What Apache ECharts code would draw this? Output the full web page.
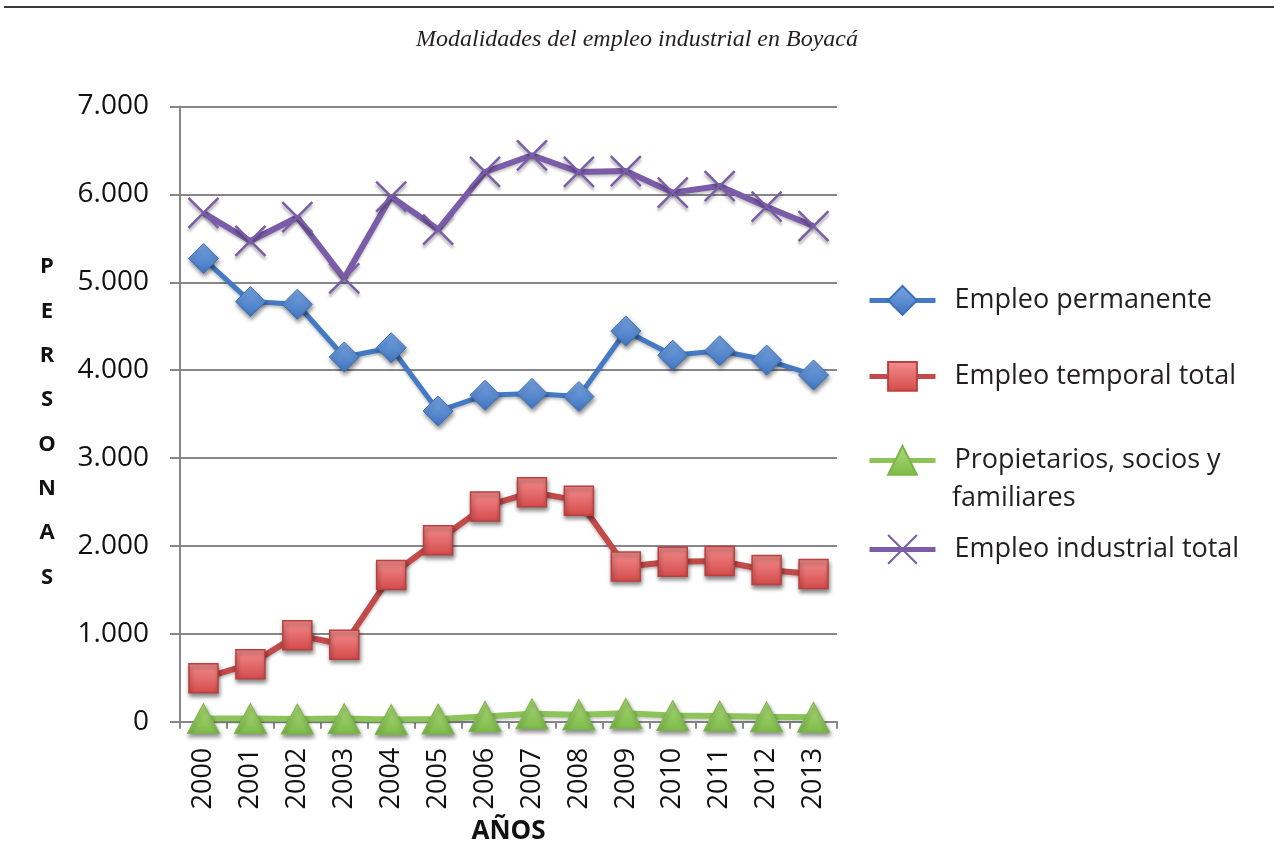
<!DOCTYPE html>
<html>
<head>
<meta charset="utf-8">
<title>Modalidades del empleo industrial en Boyacá</title>
<script src="https://cdn.jsdelivr.net/npm/echarts@6/dist/echarts.min.js"></script>
<style>
  html, body { margin: 0; padding: 0; background: #fff; }
  #main { width: 1274px; height: 848px; }
</style>
</head>
<body>
<div id="main"></div>
<script>
// datos
var anios = ['2000', '2001', '2002', '2003', '2004', '2005', '2006', '2007', '2008', '2009', '2010', '2011', '2012', '2013'];
var empleoPermanente = [5270, 4780, 4750, 4150, 4255, 3535, 3715, 3735, 3700, 4445, 4170, 4220, 4115, 3945];
var empleoTemporal = [495, 655, 985, 875, 1670, 2065, 2450, 2610, 2515, 1765, 1820, 1828, 1726, 1680];
var propietarios = [35, 35, 30, 35, 25, 30, 60, 90, 80, 95, 70, 65, 55, 50];
var empleoIndustrial = [5790, 5470, 5740, 5045, 5975, 5600, 6255, 6445, 6255, 6265, 6020, 6095, 5860, 5640];
var ticksY = [0, 1000, 2000, 3000, 4000, 5000, 6000, 7000];

var chart = echarts.init(document.getElementById('main'));

var sombra = {
  shadowBlur: 4,
  shadowColor: 'rgba(0,0,0,0.45)',
  shadowOffsetX: 1,
  shadowOffsetY: 3
};

function degradado(arriba, abajo) {
  return new echarts.graphic.LinearGradient(0, 0, 0, 1, [
    { offset: 0, color: arriba },
    { offset: 1, color: abajo }
  ]);
}

function formatoMiles(v) {
  if (v === 0) return '0';
  return String(v / 1000) + '.000';
}

// una leyenda por serie para poder ubicar cada fila
function leyenda(nombre, top, formatter) {
  var l = {
    data: [nombre],
    orient: 'vertical',
    left: 867,
    top: top,
    padding: 0,
    itemWidth: 66,
    itemHeight: 36,
    selectedMode: false,
    lineStyle: { width: 5 },
    textStyle: {
      fontFamily: 'Open Sans',
      fontSize: 27,
      lineHeight: 30,
      color: '#231f20',
      padding: [0, 0, 0, 14]
    }
  };
  if (formatter) l.formatter = formatter;
  return l;
}

var option = {
  animation: false,
  backgroundColor: '#fff',
  title: {
    text: 'Modalidades del empleo industrial en Boyacá',
    left: 'center',
    top: 23,
    textStyle: {
      fontFamily: 'Liberation Serif',
      fontStyle: 'italic',
      fontWeight: 'normal',
      fontSize: 24,
      color: '#231f20'
    }
  },
  graphic: [
    {
      type: 'line',
      shape: { x1: 4, y1: 7, x2: 1274, y2: 7 },
      style: { stroke: '#3a3a3a', lineWidth: 2 }
    },
    {
      // titulo vertical del eje y
      type: 'text',
      x: 47,
      y: 245,
      style: {
        text: 'P\nE\nR\nS\nO\nN\nA\nS',
        font: 'bold 22px "Open Sans"',
        lineHeight: 44.3,
        align: 'center',
        verticalAlign: 'top',
        fill: '#111'
      }
    },
    {
      // segunda linea de la leyenda de propietarios
      type: 'text',
      x: 952,
      y: 498,
      style: {
        text: 'familiares',
        font: '27px "Open Sans"',
        align: 'left',
        verticalAlign: 'middle',
        fill: '#231f20'
      }
    }
  ],
  legend: [
    leyenda('Empleo permanente', 285),
    leyenda('Empleo temporal total', 361),
    leyenda('Propietarios, socios y familiares', 445, function () { return 'Propietarios, socios y'; }),
    leyenda('Empleo industrial total', 534)
  ],
  grid: {
    left: 180,
    right: 437,
    top: 106.5,
    bottom: 126.3,
    outerBoundsMode: 'none'
  },
  xAxis: {
    type: 'category',
    data: anios,
    boundaryGap: true,
    name: 'AÑOS',
    nameLocation: 'middle',
    nameGap: 97,
    nameTextStyle: {
      fontFamily: 'Open Sans',
      fontWeight: 'bold',
      fontSize: 26,
      color: '#111'
    },
    axisLine: { lineStyle: { color: '#86868b', width: 2 } },
    axisTick: { show: true, length: 7, lineStyle: { color: '#86868b', width: 2 } },
    axisLabel: {
      rotate: 90,
      margin: 26,
      fontFamily: 'Open Sans',
      fontSize: 27,
      color: '#111'
    }
  },
  yAxis: {
    type: 'value',
    min: 0,
    max: 7000,
    interval: 1000,
    axisLine: { show: true, lineStyle: { color: '#86868b', width: 2 } },
    axisTick: { show: true, length: 10, lineStyle: { color: '#86868b', width: 2 } },
    axisLabel: {
      margin: 31,
      fontFamily: 'Open Sans',
      fontSize: 28,
      color: '#111',
      formatter: formatoMiles
    },
    splitLine: { show: true, lineStyle: { color: '#86868b', width: 2 } }
  },
  series: [
    {
      name: 'Empleo permanente',
      type: 'line',
      data: empleoPermanente,
      symbol: 'diamond',
      symbolSize: 30,
      lineStyle: { color: '#4479c3', width: 5, shadowBlur: 3, shadowColor: 'rgba(0,0,0,0.25)', shadowOffsetY: 2 },
      itemStyle: Object.assign({
        color: degradado('#79a6e2', '#3f74c0'),
        borderColor: '#3c6fb6',
        borderWidth: 1
      }, sombra)
    },
    {
      name: 'Empleo temporal total',
      type: 'line',
      data: empleoTemporal,
      symbol: 'rect',
      symbolSize: 29,
      lineStyle: { color: '#c24a49', width: 6, shadowBlur: 3, shadowColor: 'rgba(0,0,0,0.25)', shadowOffsetY: 2 },
      itemStyle: Object.assign({
        color: degradado('#f48e8e', '#d44a4a'),
        borderColor: '#b9403f',
        borderWidth: 1.5
      }, sombra)
    },
    {
      name: 'Propietarios, socios y familiares',
      type: 'line',
      data: propietarios,
      symbol: 'triangle',
      symbolSize: [32, 30],
      lineStyle: { color: '#8cc45a', width: 6, shadowBlur: 3, shadowColor: 'rgba(0,0,0,0.2)', shadowOffsetY: 2 },
      itemStyle: Object.assign({
        color: degradado('#b0dc7c', '#7cba48'),
        borderColor: '#7ab648',
        borderWidth: 1
      }, sombra)
    },
    {
      name: 'Empleo industrial total',
      type: 'line',
      data: empleoIndustrial,
      symbol: 'path://M0,0L10,10M10,0L0,10',
      symbolSize: 30,
      lineStyle: { color: '#7a5ca8', width: 6, shadowBlur: 3, shadowColor: 'rgba(0,0,0,0.25)', shadowOffsetY: 2 },
      itemStyle: {
        color: 'rgba(0,0,0,0)',
        borderColor: '#7a5ca8',
        borderWidth: 2.5,
        shadowBlur: 3,
        shadowColor: 'rgba(0,0,0,0.35)',
        shadowOffsetY: 3
      }
    }
  ]
};

chart.setOption(option);
</script>
</body>
</html>
